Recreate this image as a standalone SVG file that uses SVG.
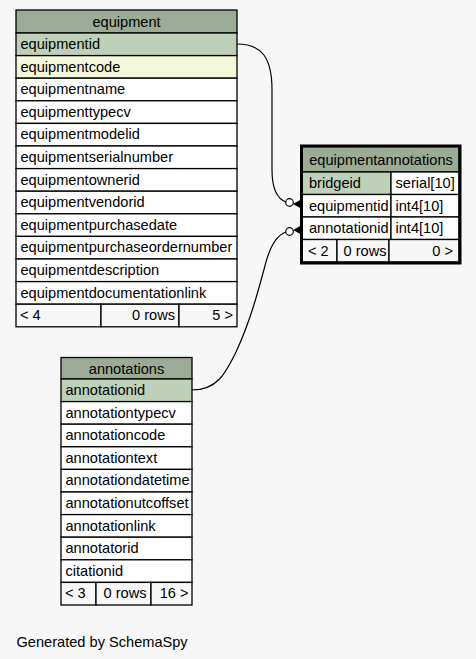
<svg xmlns="http://www.w3.org/2000/svg" width="476" height="659" viewBox="0 0 476 659">
<defs>
<style>
text{font-family:"Liberation Sans",Arial,Helvetica,sans-serif;font-size:14.6px;fill:#000}
.c{stroke:#000;stroke-width:1.3}
.h{fill:#9bab96}
.pk{fill:#bed1b8}
.ix{fill:#f4f7da}
.w{fill:#fff}
.f{fill:#f7f7f7}
.m{text-anchor:middle}
.r{text-anchor:end}
.edge{fill:none;stroke:#000;stroke-width:1.2}
.dot{fill:#fff;stroke:#000;stroke-width:1.2}
</style>
</defs>
<rect width="476" height="659" fill="#f7f7f7"/>

<g id="connectors">
<path class="edge" d="M237,44 C262,44 272,58 272,90 L272,170 C272,190 278,199 286,202"/>
<circle class="dot" cx="289.5" cy="202.5" r="3.8"/>
<polygon points="293,204 302,199 302,209" fill="#000"/>
<path class="edge" d="M192,390 C218,390 226,372 236,352 C250,322 258,292 266,262 C271,244 277,235 286,232"/>
<circle class="dot" cx="289.5" cy="231.5" r="3.8"/>
<polygon points="293,230 302,225 302,235" fill="#000"/>
</g>

<g id="equipment">
<rect class="c h" x="16" y="10" width="221" height="23"/>
<text class="m" x="126.5" y="27">equipment</text>
<rect class="c pk" x="16" y="33" width="221" height="22.6"/>
<text x="20.5" y="49">equipmentid</text>
<rect class="c ix" x="16" y="55.6" width="221" height="22.6"/>
<text x="20.5" y="71.6">equipmentcode</text>
<rect class="c w" x="16" y="78.2" width="221" height="22.6"/>
<text x="20.5" y="94.2">equipmentname</text>
<rect class="c w" x="16" y="100.8" width="221" height="22.6"/>
<text x="20.5" y="116.8">equipmenttypecv</text>
<rect class="c w" x="16" y="123.4" width="221" height="22.6"/>
<text x="20.5" y="139.4">equipmentmodelid</text>
<rect class="c w" x="16" y="146" width="221" height="22.6"/>
<text x="20.5" y="162">equipmentserialnumber</text>
<rect class="c w" x="16" y="168.6" width="221" height="22.6"/>
<text x="20.5" y="184.6">equipmentownerid</text>
<rect class="c w" x="16" y="191.2" width="221" height="22.6"/>
<text x="20.5" y="207.2">equipmentvendorid</text>
<rect class="c w" x="16" y="213.8" width="221" height="22.6"/>
<text x="20.5" y="229.8">equipmentpurchasedate</text>
<rect class="c w" x="16" y="236.4" width="221" height="22.6"/>
<text x="20.5" y="252.4">equipmentpurchaseordernumber</text>
<rect class="c w" x="16" y="259" width="221" height="22.6"/>
<text x="20.5" y="275">equipmentdescription</text>
<rect class="c w" x="16" y="281.6" width="221" height="22.6"/>
<text x="20.5" y="297.6">equipmentdocumentationlink</text>
<rect class="c f" x="16" y="304.2" width="85" height="22.6"/>
<rect class="c f" x="101" y="304.2" width="78" height="22.6"/>
<rect class="c f" x="179" y="304.2" width="58" height="22.6"/>
<text x="20" y="320.2">&lt; 4</text>
<text class="r" x="175" y="320.2">0 rows</text>
<text class="r" x="233" y="320.2">5 &gt;</text>
</g>

<g id="equipmentannotations">
<rect class="c h" x="302" y="146.5" width="157" height="25.5"/>
<text class="m" x="381" y="165">equipmentannotations</text>
<rect class="c pk" x="302" y="172" width="89" height="22.5"/>
<rect class="c w" x="391" y="172" width="68" height="22.5"/>
<text x="309" y="188">bridgeid</text>
<text x="395.5" y="188">serial[10]</text>
<rect class="c w" x="302" y="194.5" width="89" height="22.5"/>
<rect class="c w" x="391" y="194.5" width="68" height="22.5"/>
<text x="309" y="210.5">equipmentid</text>
<text x="395.5" y="210.5">int4[10]</text>
<rect class="c w" x="302" y="217" width="89" height="22.5"/>
<rect class="c w" x="391" y="217" width="68" height="22.5"/>
<text x="309" y="233">annotationid</text>
<text x="395.5" y="233">int4[10]</text>
<rect class="c f" x="302" y="239.5" width="35" height="22.5"/>
<rect class="c f" x="337" y="239.5" width="52" height="22.5"/>
<rect class="c f" x="389" y="239.5" width="70" height="22.5"/>
<text x="308" y="255.5">&lt; 2</text>
<text class="r" x="386.5" y="255.5">0 rows</text>
<text class="r" x="453" y="255.5">0 &gt;</text>
<rect x="301.5" y="146" width="158.5" height="117" fill="none" stroke="#000" stroke-width="3"/>
</g>

<g id="annotations">
<rect class="c h" x="61" y="357.5" width="131" height="21.5"/>
<text class="m" x="126.5" y="374">annotations</text>
<rect class="c pk" x="61" y="379" width="131" height="22.6"/>
<text x="65.5" y="395">annotationid</text>
<rect class="c w" x="61" y="401.6" width="131" height="22.6"/>
<text x="65.5" y="417.6">annotationtypecv</text>
<rect class="c w" x="61" y="424.2" width="131" height="22.6"/>
<text x="65.5" y="440.2">annotationcode</text>
<rect class="c w" x="61" y="446.8" width="131" height="22.6"/>
<text x="65.5" y="462.8">annotationtext</text>
<rect class="c w" x="61" y="469.4" width="131" height="22.6"/>
<text x="65.5" y="485.4">annotationdatetime</text>
<rect class="c w" x="61" y="492" width="131" height="22.6"/>
<text x="65.5" y="508">annotationutcoffset</text>
<rect class="c w" x="61" y="514.6" width="131" height="22.6"/>
<text x="65.5" y="530.6">annotationlink</text>
<rect class="c w" x="61" y="537.2" width="131" height="22.6"/>
<text x="65.5" y="553.2">annotatorid</text>
<rect class="c w" x="61" y="559.8" width="131" height="22.6"/>
<text x="65.5" y="575.8">citationid</text>
<rect class="c f" x="61" y="582.4" width="35" height="22.6"/>
<rect class="c f" x="96" y="582.4" width="55" height="22.6"/>
<rect class="c f" x="151" y="582.4" width="41" height="22.6"/>
<text x="65" y="598.4">&lt; 3</text>
<text class="r" x="146.5" y="598.4">0 rows</text>
<text class="r" x="188.5" y="598.4">16 &gt;</text>
</g>

<text x="16.5" y="646.5">Generated by SchemaSpy</text>
</svg>
